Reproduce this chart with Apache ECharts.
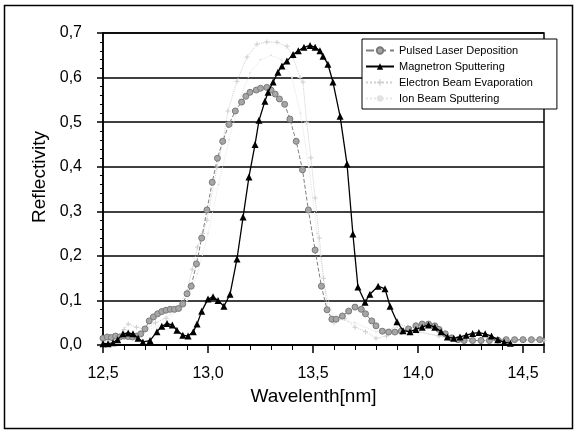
<!DOCTYPE html>
<html>
<head>
<meta charset="utf-8">
<script src="https://cdn.jsdelivr.net/npm/echarts@6/dist/echarts.min.js"></script>
<style>html,body{margin:0;padding:0;background:#fff}#c{width:574px;height:432px}</style>
</head>
<body>
<div id="c"></div>
<script>
// ---- data ----
var seriesNames = ['Pulsed Laser Deposition', 'Magnetron Sputtering', 'Electron Beam Evaporation', 'Ion Beam Sputtering'];
var xTicks = [12.5, 13.0, 13.5, 14.0, 14.5];
var yTicks = [0.0, 0.1, 0.2, 0.3, 0.4, 0.5, 0.6, 0.7];

var pulsedX = [12.50,12.52,12.54,12.56,12.58,12.60,12.62,12.64,12.66,12.68,12.70,12.72,12.74,12.76,12.78,12.80,12.82,12.84,12.86,12.88,12.90,12.92,12.945,12.97,12.995,13.02,13.045,13.07,13.10,13.13,13.16,13.18,13.20,13.23,13.25,13.28,13.30,13.32,13.34,13.365,13.39,13.42,13.45,13.478,13.51,13.54,13.567,13.59,13.61,13.64,13.67,13.70,13.73,13.75,13.78,13.80,13.83,13.86,13.89,13.92,13.955,13.99,14.02,14.05,14.08,14.10,14.13,14.16,14.19,14.22,14.26,14.30,14.34,14.38,14.42,14.46,14.50,14.54,14.58];
var pulsedY = [0.015,0.018,0.017,0.02,0.018,0.02,0.019,0.018,0.02,0.025,0.036,0.054,0.063,0.07,0.075,0.078,0.08,0.08,0.082,0.092,0.115,0.132,0.182,0.24,0.303,0.365,0.419,0.457,0.495,0.525,0.545,0.558,0.567,0.572,0.576,0.578,0.572,0.563,0.552,0.54,0.507,0.457,0.393,0.303,0.213,0.132,0.079,0.058,0.058,0.065,0.076,0.085,0.08,0.07,0.054,0.043,0.031,0.029,0.029,0.031,0.036,0.043,0.047,0.047,0.043,0.035,0.025,0.016,0.012,0.01,0.01,0.01,0.01,0.011,0.012,0.012,0.012,0.012,0.012];

var magX = [12.50,12.524,12.548,12.57,12.595,12.62,12.643,12.667,12.69,12.724,12.757,12.78,12.805,12.83,12.852,12.88,12.905,12.93,12.948,12.97,13.0,13.024,13.048,13.076,13.105,13.138,13.167,13.195,13.224,13.243,13.271,13.286,13.31,13.333,13.352,13.376,13.405,13.43,13.457,13.486,13.51,13.533,13.548,13.571,13.595,13.629,13.662,13.69,13.714,13.748,13.771,13.81,13.843,13.867,13.90,13.929,13.962,13.99,14.02,14.05,14.08,14.11,14.14,14.17,14.20,14.23,14.26,14.29,14.32,14.35,14.38,14.41,14.44];
var magY = [0.003,0.003,0.005,0.012,0.025,0.027,0.025,0.015,0.007,0.01,0.03,0.042,0.048,0.045,0.033,0.022,0.02,0.03,0.047,0.076,0.103,0.108,0.1,0.087,0.114,0.193,0.287,0.377,0.45,0.504,0.547,0.567,0.59,0.612,0.626,0.637,0.652,0.66,0.668,0.672,0.668,0.66,0.648,0.63,0.59,0.513,0.406,0.249,0.13,0.096,0.114,0.132,0.126,0.087,0.052,0.032,0.03,0.035,0.04,0.045,0.04,0.03,0.018,0.015,0.018,0.022,0.026,0.028,0.025,0.02,0.012,0.006,0.004];

var ebeamX = [12.50,12.55,12.60,12.62,12.66,12.70,12.75,12.80,12.85,12.90,12.925,12.95,12.975,12.995,13.043,13.071,13.095,13.138,13.186,13.233,13.28,13.329,13.376,13.405,13.438,13.452,13.47,13.49,13.51,13.53,13.55,13.57,13.60,13.65,13.70,13.75,13.80,13.85,13.90,13.95,14.00,14.10,14.20,14.30,14.40,14.50,14.60];
var ebeamY = [0.005,0.01,0.035,0.047,0.04,0.035,0.05,0.06,0.08,0.12,0.17,0.22,0.25,0.28,0.40,0.457,0.525,0.592,0.646,0.675,0.68,0.679,0.67,0.646,0.60,0.59,0.50,0.42,0.33,0.24,0.15,0.08,0.05,0.06,0.04,0.03,0.015,0.02,0.05,0.04,0.03,0.02,0.01,0.01,0.01,0.01,0.01];

var ionX = [12.50,12.60,12.70,12.80,12.90,12.95,13.00,13.05,13.10,13.15,13.20,13.25,13.30,13.35,13.40,13.44,13.48,13.52,13.56,13.60,13.70,13.80,13.90,14.00,14.20,14.40,14.60];
var ionY = [0.005,0.02,0.03,0.05,0.10,0.16,0.25,0.36,0.46,0.55,0.61,0.64,0.65,0.64,0.60,0.52,0.40,0.25,0.12,0.06,0.05,0.03,0.04,0.03,0.01,0.01,0.01];

function pairs(xs, ys){ return xs.map(function(x,i){ return [x, ys[i]]; }); }
function comma(v){ return v.toFixed(1).replace('.', ','); }

var FONT = 'Liberation Sans, Arial, sans-serif';
var chart = echarts.init(document.getElementById('c'), null, {renderer:'canvas'});
chart.setOption({
  animation: false,
  backgroundColor: '#fff',
  grid: { left: 103, right: 30, top: 33, bottom: 87, show: true, borderColor: '#000', borderWidth: 1.5, backgroundColor: 'transparent' },
  xAxis: {
    type: 'value', min: xTicks[0], max: 14.6, interval: 0.5,
    name: 'Wavelenth[nm]', nameLocation: 'middle', nameGap: 39,
    nameTextStyle: { fontFamily: FONT, fontSize: 19, color: '#000', padding: [0, 20, 0, 0] },
    axisLine: { lineStyle: { color: '#000', width: 1.5 } },
    axisTick: { show: true, inside: false, length: 8, lineStyle: { color: '#000', width: 1.5 } },
    minorTick: { show: true, splitNumber: 5, length: 5, lineStyle: { color: '#000', width: 1 } },
    axisLabel: { fontFamily: FONT, fontSize: 16, color: '#000', margin: 21, showMaxLabel: false, formatter: comma },
    splitLine: { show: false }
  },
  yAxis: {
    type: 'value', min: yTicks[0], max: yTicks[yTicks.length-1], interval: 0.1,
    name: 'Reflectivity', nameLocation: 'middle', nameGap: 50,
    nameTextStyle: { fontFamily: FONT, fontSize: 19, color: '#000', padding: [0, 0, 0, 24] },
    axisLine: { lineStyle: { color: '#000', width: 1.5 } },
    axisTick: { show: true, inside: false, length: 6, lineStyle: { color: '#000', width: 1.5 } },
    minorTick: { show: true, splitNumber: 5, length: 3, lineStyle: { color: '#000', width: 1 } },
    axisLabel: { fontFamily: FONT, fontSize: 16, color: '#000', margin: 21, formatter: comma },
    splitLine: { show: true, lineStyle: { color: '#000', width: 1.5 } }
  },
  legend: {
    orient: 'vertical', left: 362, top: 39,
    data: seriesNames,
    backgroundColor: '#fff', borderColor: '#000', borderWidth: 1,
    padding: [6, 24, 5, 3], itemGap: 5, itemWidth: 28, itemHeight: 8,
    textStyle: { fontFamily: FONT, fontSize: 11, color: '#000' }
  },
  graphic: [{
    type: 'rect', left: 2, top: 3, shape: { width: 568, height: 423 },
    style: { fill: 'none', stroke: '#000', lineWidth: 1.5 }, silent: true, z: 100
  }],
  series: [
    { name: seriesNames[3], type: 'line', data: pairs(ionX, ionY), z: 1,
      symbol: 'circle', symbolSize: 2, showSymbol: true,
      itemStyle: { color: '#e2e2e2' }, lineStyle: { color: '#e6e6e6', width: 1, type: 'dotted' } },
    { name: seriesNames[2], type: 'line', data: pairs(ebeamX, ebeamY), z: 2,
      symbol: 'path://M4,0L6,0L6,4L10,4L10,6L6,6L6,10L4,10L4,6L0,6L0,4L4,4Z', symbolSize: 5, showSymbol: true,
      itemStyle: { color: '#cfcfcf' }, lineStyle: { color: '#d0d0d0', width: 1, type: 'dotted' } },
    { name: seriesNames[0], type: 'line', data: pairs(pulsedX, pulsedY), z: 3,
      symbol: 'circle', symbolSize: 6, showSymbol: true,
      itemStyle: { color: '#a6a6a6', borderColor: '#7a7a7a', borderWidth: 1 },
      lineStyle: { color: '#808080', width: 1, type: 'dashed' } },
    { name: seriesNames[1], type: 'line', data: pairs(magX, magY), z: 4,
      symbol: 'triangle', symbolSize: 7, showSymbol: true,
      itemStyle: { color: '#000' }, lineStyle: { color: '#000', width: 1.3 } }
  ]
});
</script>
</body>
</html>
